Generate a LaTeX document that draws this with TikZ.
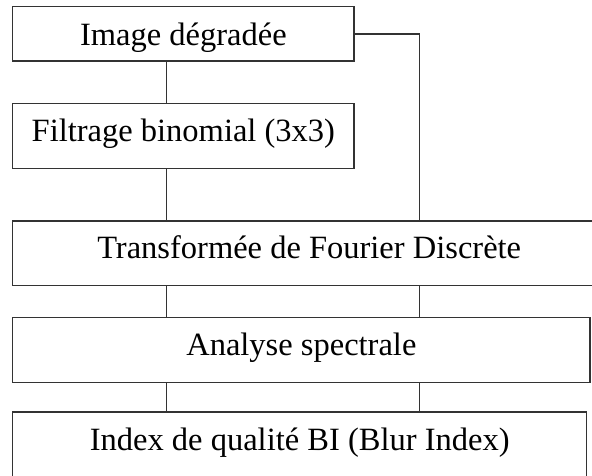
\documentclass[tikz,border=0pt]{standalone}
\usepackage{fontspec}
\setmainfont{Liberation Serif}
\begin{document}
\begin{tikzpicture}[x=1pt,y=1pt,
  box/.style={draw=black!80, line width=1.3pt, outer sep=0pt, inner sep=0pt,
    anchor=north west, align=center, text height=20pt, text depth=9pt,
    font=\fontsize{32.5pt}{39pt}\selectfont},
  link/.style={draw=black!80, line width=1.3pt}]
\useasboundingbox (0,0) rectangle (592,-475);
\clip (0,0) rectangle (592,-475);
\fill[white] (0,0) rectangle (592,-475);
\coordinate (xl) at (166.7,0);
\coordinate (xr) at (419.3,0);
\node[box, minimum width=341.3pt, minimum height=54.3pt, text height=26pt, text depth=3.6pt] (b1) at (12.7,-6.7) {Image dégradée};
\node[box, minimum width=341.3pt, minimum height=65pt] (b2) at (12.7,-103.3) {Filtrage binomial (3x3)};
\node[box, minimum width=593pt, minimum height=64.7pt] (b3) at (12.7,-221) {Transformée de Fourier Discrète};
\node[box, minimum width=577.3pt, minimum height=65.2pt] (b4) at (12.7,-317.5) {Analyse spectrale};
\node[box, minimum width=574pt, minimum height=65pt] (b5) at (12.7,-412) {Index de qualité BI (Blur Index)};
\draw[link] (b1.south -| xl) -- (b2.north -| xl);
\draw[link] (b2.south -| xl) -- (b3.north -| xl);
\draw[link] (b1.east) -| (b3.north -| xr);
\draw[link] (b3.south -| xl) -- (b4.north -| xl);
\draw[link] (b3.south -| xr) -- (b4.north -| xr);
\draw[link] (b4.south -| xl) -- (b5.north -| xl);
\draw[link] (b4.south -| xr) -- (b5.north -| xr);
\end{tikzpicture}
\end{document}
